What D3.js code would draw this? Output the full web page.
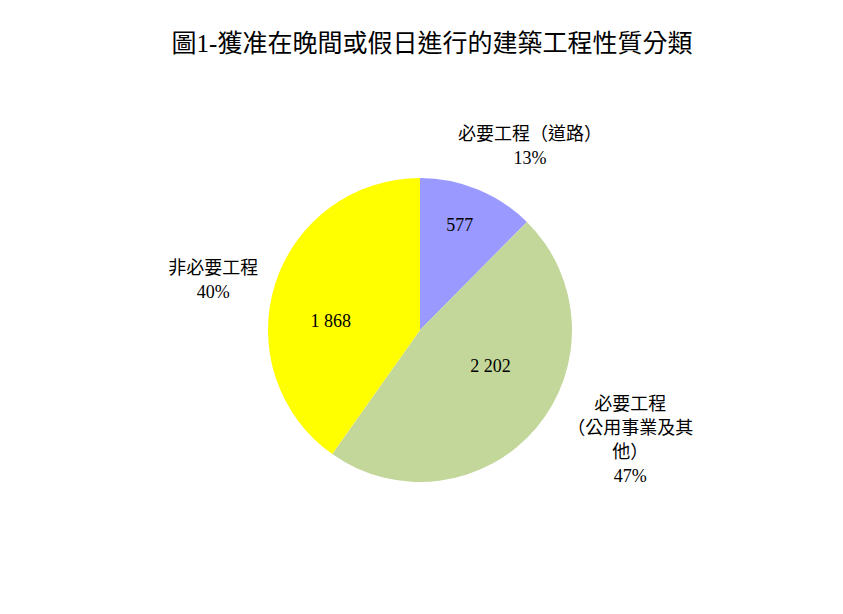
<!DOCTYPE html>
<html>
<head>
<meta charset="utf-8">
<script src="https://cdnjs.cloudflare.com/ajax/libs/d3/7.8.5/d3.min.js"></script>
<style>
  body { margin: 0; background: #fff; }
  text { font-family: "Liberation Serif", "Noto Sans CJK TC", serif; fill: #000; }
  .cjk { font-family: "Noto Sans CJK TC", "Noto Sans CJK JP", sans-serif; text-spacing-trim: space-all; font-feature-settings: "chws" 0, "halt" 0; }
</style>
</head>
<body>
<div class="container"></div>
<script>
var width = 843;
var height = 614;

// chart data
var categories = ["必要工程（道路）", "必要工程（公用事業及其他）", "非必要工程"];
var values = [577, 2202, 1868];
var valueLabels = ["577", "2 202", "1 868"];
var percentLabels = ["13%", "47%", "40%"];
// category labels broken into lines as in the original
var categoryLines = [
  ["必要工程（道路）"],
  ["必要工程", "（公用事業及其", "他）"],
  ["非必要工程"]
];
var fills = ["#9999FF", "#C4D79B", "#FFFF00"];

var center = {x: 420, y: 330};
var radius = 152;

var svg = d3.select(".container").append("svg")
  .attr("width", width)
  .attr("height", height);

svg.append("text")
  .attr("x", 432)
  .attr("y", 52)
  .style("text-anchor", "middle")
  .style("font-size", "25px")
  .text("圖1-獲准在晚間或假日進行的建築工程性質分類");

var pie = d3.pie().sort(null).value(d => d);
var arcs = pie(values);
var arc = d3.arc().innerRadius(0).outerRadius(radius);

var g = svg.append("g")
  .attr("transform", "translate(" + center.x + "," + center.y + ")");

g.selectAll("path.slice")
  .data(arcs)
  .enter().append("path")
  .attr("class", "slice")
  .attr("d", arc)
  .attr("fill", (d, i) => fills[i]);

// polar helper: angle measured clockwise from 12 o'clock
function polar(a, r) {
  return [Math.sin(a) * r, -Math.cos(a) * r];
}
var deg = Math.PI / 180;

// value labels inside slices (distance as fraction of radius, angle nudge)
var valueDist = [0.74, 0.52, 0.59];
var valueShift = [-1.6, -13, -11.6];
g.selectAll("text.value")
  .data(arcs)
  .enter().append("text")
  .attr("class", "value")
  .each(function (d, i) {
    var p = polar((d.startAngle + d.endAngle) / 2 + valueShift[i] * deg, radius * valueDist[i]);
    d3.select(this).attr("x", p[0]).attr("y", p[1]);
  })
  .attr("dy", "0.35em")
  .style("text-anchor", "middle")
  .style("font-size", "18px")
  .text((d, i) => valueLabels[i]);

// outside category labels, placed along each slice's mid angle
var outerDist = [1.41, 1.56, 1.40];
var outerShift = [8.5, -12.4, -4];
arcs.forEach(function (d, i) {
  var p = polar((d.startAngle + d.endAngle) / 2 + outerShift[i] * deg, radius * outerDist[i]);
  var lines = categoryLines[i].concat([percentLabels[i]]);
  var lineH = 24;
  var top = p[1] - (lines.length - 1) * lineH / 2;
  var t = g.append("text")
    .style("text-anchor", "middle")
    .style("font-size", "18px");
  lines.forEach(function (s, j) {
    t.append("tspan")
      .attr("class", j < lines.length - 1 ? "cjk" : null)
      .attr("x", p[0])
      .attr("y", top + j * lineH)
      .attr("dy", "0.35em")
      .text(s);
  });
});
</script>
</body>
</html>
